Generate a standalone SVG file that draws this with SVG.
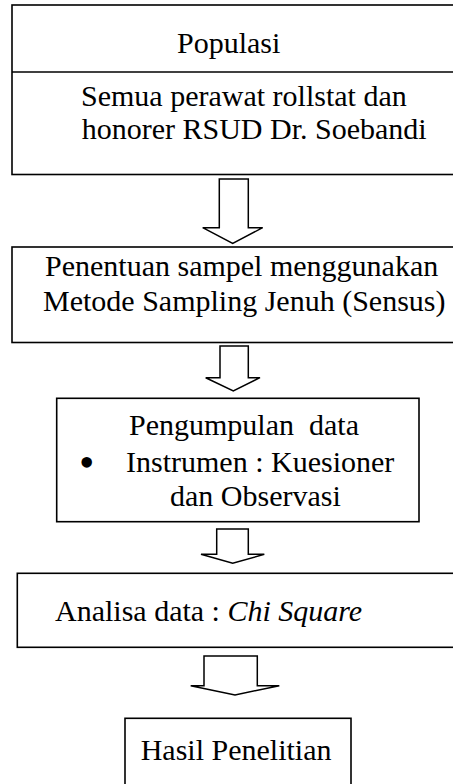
<svg xmlns="http://www.w3.org/2000/svg" width="453" height="784" viewBox="0 0 453 784">
<style>
.box{fill:#fff;stroke:#000;stroke-width:1.6}
.arr{fill:#fff;stroke:#000;stroke-width:1.5;stroke-linejoin:miter}
text{font-family:"Liberation Serif","Times New Roman",serif;font-size:30px;fill:#000}
.it{font-style:italic}
.bul{font-size:44px}
</style>
<rect width="453" height="784" fill="#fff"/>
<g id="populasi">
<rect class="box" x="12" y="5" width="452" height="169.5"/>
<line x1="12" y1="72" x2="464" y2="72" stroke="#000" stroke-width="1.6"/>
<text x="177" y="53.3">Populasi</text>
<text x="81" y="106">Semua perawat rollstat dan</text>
<text x="81.7" y="139.3">honorer RSUD Dr. Soebandi</text>
</g>
<g id="sampel">
<rect class="box" x="12" y="247" width="452" height="95.5"/>
<text x="45" y="276">Penentuan sampel menggunakan</text>
<text x="43" y="311">Metode Sampling Jenuh (Sensus)</text>
</g>
<g id="pengumpulan">
<rect class="box" x="56.7" y="398.3" width="362.3" height="123.4"/>
<text x="129" y="435" xml:space="preserve">Pengumpulan  data</text>
<text class="bul" x="79" y="477">•</text>
<text x="126" y="471.7">Instrumen : Kuesioner</text>
<text x="170" y="506">dan Observasi</text>
</g>
<g id="analisa">
<rect class="box" x="17.3" y="573.3" width="446.7" height="74"/>
<text x="55" y="621">Analisa data : <tspan class="it">Chi Square</tspan></text>
</g>
<g id="hasil">
<rect class="box" x="125" y="718.3" width="226" height="80"/>
<text x="140.7" y="760">Hasil Penelitian</text>
</g>
<g id="connectors">
<polygon class="arr" points="219.3,179 248.3,179 248.3,227.7 262.7,227.7 232.7,243.3 202.7,227.7 219.3,227.7"/>
<polygon class="arr" points="220,346 248.3,346 248.3,377.7 260,377.7 233.3,391 205.7,377.7 220,377.7"/>
<polygon class="arr" points="216.7,529 248.3,529 248.3,554.3 264.3,554.3 232.7,563.3 201,554.3 216.7,554.3"/>
<polygon class="arr" points="204,656 257.3,656 257.3,685.7 279.3,685.7 235,695 190.7,685.7 204,685.7"/>
</g>
</svg>
